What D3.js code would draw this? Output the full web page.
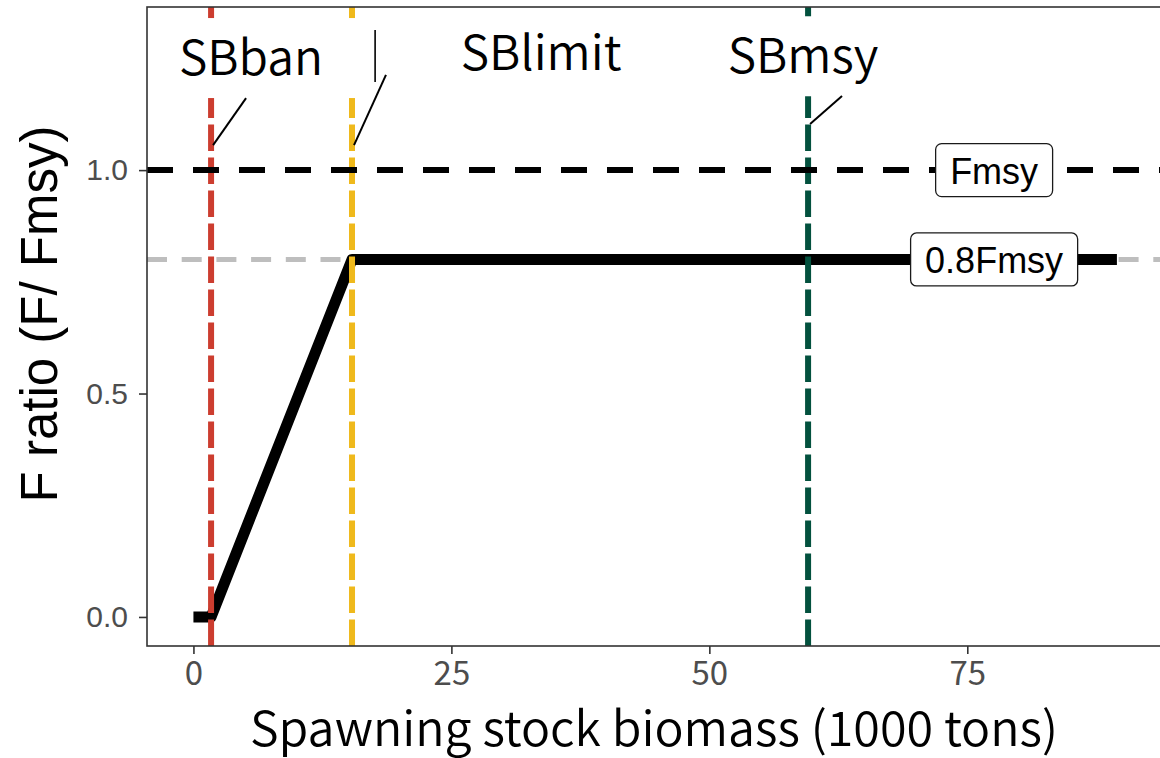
<!DOCTYPE html>
<html>
<head>
<meta charset="utf-8">
<script src="https://cdn.jsdelivr.net/npm/d3@7"></script>
<style>
  html, body { margin: 0; padding: 0; background: #ffffff; }
  svg { display: block; }
</style>
</head>
<body>
<svg id="chart" width="1160" height="758"></svg>
<script>
// Harvest control rule: F ratio against spawning stock biomass
const refNames  = ["SBban", "SBlimit", "SBmsy"];
const refValues = [1.71, 15.37, 59.57];
const refColors = ["#cc3d2f", "#efb91c", "#03513e"];

// label anchor (data units) and leader segments for the reference points
const refLabelX = [5.58, 33.69, 59.08];
const refLabelY = [1.253, 1.264, 1.257];
const segFromY  = [1.056, 1.056, 1.103];
const segToX    = [5.10, 18.66, 62.86];
const segToY    = [1.161, 1.213, 1.166];

// control rule path: biomass and F ratio
const hcrSB = [0, 1.71, 15.37, 89.5];
const hcrF  = [0, 0, 0.8, 0.8];

// F reference lines
const fLevels = [1.0, 0.8];
const fNames  = ["Fmsy", "0.8Fmsy"];
const fLabelX = [77.6, 77.6];

const xTicks = [0, 25, 50, 75];
const yTicks = [0.0, 0.5, 1.0];
const yTickLabels = ["0.0", "0.5", "1.0"];

const xTitle = "Spawning stock biomass (1000 tons)";
const yTitle = "F ratio (F/ Fmsy)";

const svg = d3.select("#chart");
const W = 1160, H = 758;
const panel = { left: 147, right: 1168.5, top: 7, bottom: 646 };

const x = d3.scaleLinear().domain([-4.5, 94.5]).range([panel.left, panel.right]);
const y = d3.scaleLinear().domain([-0.065, 1.365]).range([panel.bottom, panel.top]);

svg.append("rect").attr("width", W).attr("height", H).attr("fill", "#ffffff");

svg.append("defs").append("clipPath").attr("id", "panel-clip")
  .append("rect")
  .attr("x", panel.left).attr("y", panel.top)
  .attr("width", panel.right - panel.left).attr("height", panel.bottom - panel.top);

const plot = svg.append("g").attr("clip-path", "url(#panel-clip)");

// 0.8 Fmsy guide (grey dashed)
plot.append("line")
  .attr("x1", panel.left).attr("x2", panel.right)
  .attr("y1", y(fLevels[1])).attr("y2", y(fLevels[1]))
  .attr("stroke", "#bebebe").attr("stroke-width", 5)
  .attr("stroke-dasharray", "20 14.7");

// control rule
const line = d3.line().x((d, i) => x(hcrSB[i])).y((d, i) => y(hcrF[i]));
plot.append("path")
  .datum(hcrSB)
  .attr("d", line)
  .attr("fill", "none")
  .attr("stroke", "#000000")
  .attr("stroke-width", 11)
  .attr("stroke-linejoin", "round")
  .attr("stroke-linecap", "butt");

// reference biomass lines, dashes running upward from the axis
plot.selectAll("line.ref")
  .data(refValues)
  .join("line")
  .attr("class", "ref")
  .attr("x1", d => x(d)).attr("x2", d => x(d))
  .attr("y1", panel.bottom).attr("y2", panel.top)
  .attr("stroke", (d, i) => refColors[i])
  .attr("stroke-width", 6)
  .attr("stroke-dasharray", "26.5 6.5");

// Fmsy line (black dashed)
plot.append("line")
  .attr("x1", panel.left).attr("x2", panel.right)
  .attr("y1", y(fLevels[0])).attr("y2", y(fLevels[0]))
  .attr("stroke", "#000000").attr("stroke-width", 6)
  .attr("stroke-dasharray", "26 20");

// reference point labels: white boxes without border, with leader segments
const labelFont = "'Noto Sans CJK JP', 'Noto Sans', sans-serif";
const refG = plot.append("g");
refNames.forEach((name, i) => {
  const cx = x(refLabelX[i]), cy = y(refLabelY[i]);
  const g = refG.append("g");
  const box = g.append("rect").attr("fill", "#ffffff");
  const t = g.append("text")
    .attr("x", cx).attr("y", cy + 17.5)
    .attr("text-anchor", "middle")
    .attr("font-family", labelFont)
    .attr("font-size", 48)
    .attr("font-weight", 350)
    .attr("fill", "#000000")
    .text(name);
  const bb = t.node().getBBox();
  const padX = 53, top = cy - 39, bottom = cy + 41;
  box.attr("x", bb.x - padX).attr("y", top)
     .attr("width", bb.width + 2 * padX).attr("height", bottom - top);
  if (i === 0) {
    g.append("line")
      .attr("x1", bb.x + bb.width + padX - 1).attr("x2", bb.x + bb.width + padX - 1)
      .attr("y1", top + 12).attr("y2", bottom - 16)
      .attr("stroke", "#000000").attr("stroke-width", 1.6);
  }
  plot.append("line")
    .attr("x1", x(refValues[i]) + 2).attr("y1", y(segFromY[i]))
    .attr("x2", x(segToX[i])).attr("y2", y(segToY[i]))
    .attr("stroke", "#000000").attr("stroke-width", 2);
});

// F level labels: rounded white boxes with thin border
const fG = plot.append("g");
fNames.forEach((name, i) => {
  const cx = x(fLabelX[i]), cy = y(fLevels[i]);
  const g = fG.append("g");
  const box = g.append("rect");
  const t = g.append("text")
    .attr("x", cx).attr("y", cy + 13.5)
    .attr("text-anchor", "middle")
    .attr("font-family", "'Liberation Sans', Arial, sans-serif")
    .attr("font-size", 36)
    .attr("fill", "#000000")
    .text(name);
  const bb = t.node().getBBox();
  const padX = 14.5;
  box.attr("x", bb.x - padX).attr("y", cy - 26.5)
     .attr("width", bb.width + 2 * padX).attr("height", 53)
     .attr("rx", 6).attr("ry", 6)
     .attr("fill", "#ffffff").attr("stroke", "#1a1a1a").attr("stroke-width", 1.3);
});

// panel border
svg.append("rect")
  .attr("x", panel.left).attr("y", panel.top)
  .attr("width", panel.right - panel.left).attr("height", panel.bottom - panel.top)
  .attr("fill", "none").attr("stroke", "#333333").attr("stroke-width", 1.6);

// axes
const xAxis = d3.axisBottom(x).tickValues(xTicks).tickSize(8).tickPadding(8);
const gx = svg.append("g").attr("transform", `translate(0,${panel.bottom})`).call(xAxis);
gx.select(".domain").remove();
gx.selectAll(".tick line").attr("stroke", "#333333").attr("stroke-width", 1.6);
gx.selectAll(".tick text")
  .attr("font-family", labelFont)
  .attr("font-size", 33)
  .attr("fill", "#4d4d4d");

const yAxis = d3.axisLeft(y).tickValues(yTicks).tickSize(8).tickPadding(11)
  .tickFormat((d, i) => yTickLabels[i]);
const gy = svg.append("g").attr("transform", `translate(${panel.left},0)`).call(yAxis);
gy.select(".domain").remove();
gy.selectAll(".tick line").attr("stroke", "#333333").attr("stroke-width", 1.6);
gy.selectAll(".tick text")
  .attr("font-family", "'Liberation Sans', Arial, sans-serif")
  .attr("font-size", 30)
  .attr("fill", "#4d4d4d");

// axis titles
svg.append("text")
  .attr("x", 654).attr("y", 746)
  .attr("text-anchor", "middle")
  .attr("font-family", labelFont)
  .attr("font-size", 48)
  .attr("font-weight", 350)
  .attr("textLength", 808)
  .attr("lengthAdjust", "spacingAndGlyphs")
  .attr("fill", "#000000")
  .text(xTitle);

svg.append("text")
  .attr("transform", "translate(57,314) rotate(-90)")
  .attr("text-anchor", "middle")
  .attr("font-family", "'Liberation Sans', Arial, sans-serif")
  .attr("font-size", 51)
  .attr("fill", "#000000")
  .text(yTitle);
</script>
</body>
</html>
